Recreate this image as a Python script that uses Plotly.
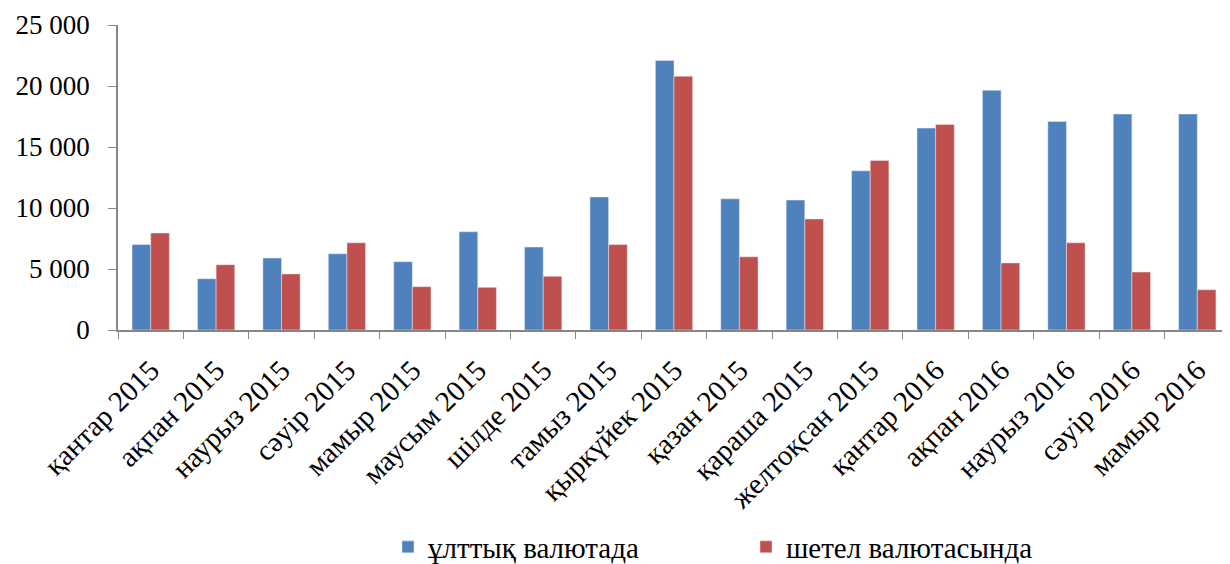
import plotly.graph_objects as go

categories = ["қантар 2015", "ақпан 2015", "наурыз 2015", "сәуір 2015", "мамыр 2015",
              "маусым 2015", "шілде 2015", "тамыз 2015", "қыркүйек 2015", "қазан 2015",
              "қараша 2015", "желтоқсан 2015", "қантар 2016", "ақпан 2016", "наурыз 2016",
              "сәуір 2016", "мамыр 2016"]
national = [7000, 4200, 5900, 6250, 5600, 8050, 6800, 10900, 22100, 10750,
            10650, 13050, 16550, 19650, 17100, 17700, 17700]
foreign = [7950, 5350, 4600, 7150, 3550, 3500, 4400, 7000, 20800, 6000,
           9100, 13900, 16850, 5500, 7150, 4750, 3300]
series_names = ["ұлттық валютада", "шетел валютасында"]
tick_vals = [0, 5000, 10000, 15000, 20000, 25000]

FONT = "Liberation Serif"

fig = go.Figure()
fig.add_trace(go.Bar(x=categories, y=national, name=series_names[0],
                     marker_color="#4F81BD"))
fig.add_trace(go.Bar(x=categories, y=foreign, name=series_names[1],
                     marker_color="#C0504D"))

fig.update_layout(
    width=1222, height=556,
    margin=dict(l=110, r=0, t=17, b=234),
    plot_bgcolor="white", paper_bgcolor="white",
    barmode="group", bargap=0.43, bargroupgap=0,
    separators=", ",
    font=dict(family=FONT, size=27, color="black"),
    showlegend=True,
    legend=dict(orientation="h", x=0.2428, xref="paper", y=0.0306, yref="container",
                xanchor="left", yanchor="middle",
                entrywidth=313, entrywidthmode="pixels",
                font=dict(family=FONT, size=29), itemclick=False),
)
fig.update_xaxes(
    type="category", tickangle=-45, showline=True, linecolor="#868686", linewidth=1.5,
    ticks="outside", tickson="boundaries", ticklen=7, tickcolor="#868686",
    ticklabelstandoff=10, automargin=False,
    showgrid=False, tickfont=dict(family=FONT, size=29),
)
fig.update_yaxes(
    range=[0, 25000], tickvals=tick_vals, tickformat=",d",
    showline=True, linecolor="#868686", linewidth=1.5,
    ticks="outside", ticklen=8, tickcolor="#868686", ticklabelstandoff=13,
    automargin=False,
    showgrid=False, zeroline=False, tickfont=dict(family=FONT, size=27),
)

fig.write_html("out.html")
